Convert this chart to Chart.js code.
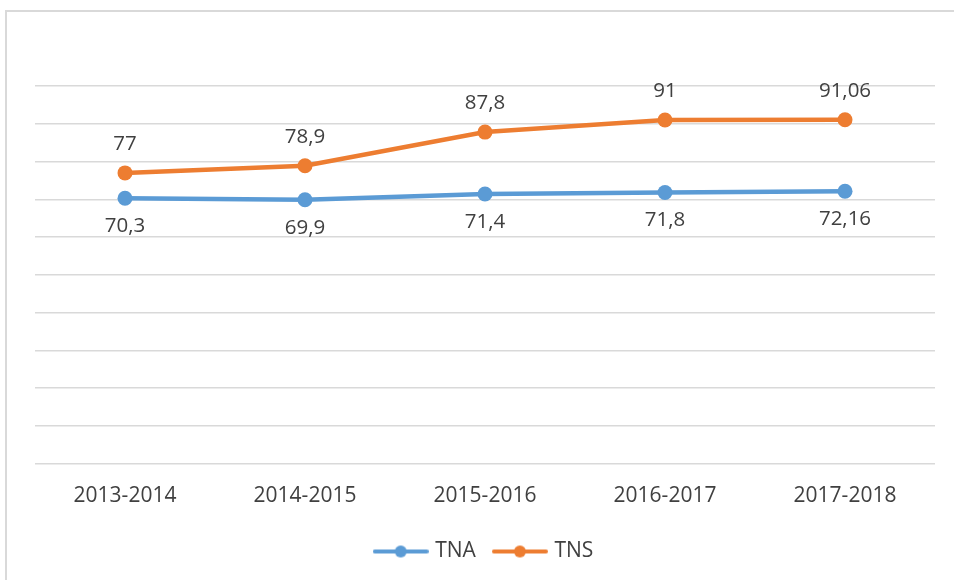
<!DOCTYPE html>
<html>
<head>
<meta charset="utf-8">
<script src="https://cdn.jsdelivr.net/npm/chart.js@4"></script>
<style>
  html, body { margin: 0; padding: 0; background: #fff; overflow: hidden; }
  #frame { position: absolute; left: 5px; top: 10px; width: 1000px; height: 700px;
           border-left: 2px solid #d9d9d9; border-top: 2px solid #d9d9d9; }
  #wrap { position: absolute; left: 0; top: 0; width: 954px; height: 580px; }
</style>
</head>
<body>
<div id="frame"></div>
<div id="wrap"><canvas id="chart"></canvas></div>
<script>
const years = ['2013-2014', '2014-2015', '2015-2016', '2016-2017', '2017-2018'];
const tna = [70.3, 69.9, 71.4, 71.8, 72.16];
const tns = [77, 78.9, 87.8, 91, 91.06];
const tnaLabels = ['70,3', '69,9', '71,4', '71,8', '72,16'];
const tnsLabels = ['77', '78,9', '87,8', '91', '91,06'];

const blue = '#5B9BD5';
const orange = '#ED7D31';
const textColor = '#404040';
const fontFamily = "'Open Sans', 'Noto Sans', sans-serif";

// legend marker: line with a dot in the middle
function legendMark(color) {
    const c = document.createElement('canvas');
    c.width = 56;
    c.height = 14;
    const g = c.getContext('2d');
    g.strokeStyle = color;
    g.lineWidth = 4;
    g.lineCap = 'round';
    g.beginPath();
    g.moveTo(2, 7);
    g.lineTo(54, 7);
    g.stroke();
    g.fillStyle = color;
    g.beginPath();
    g.arc(28, 7, 6, 0, Math.PI * 2);
    g.fill();
    return c;
}

// value labels on the points
const valueLabels = {
    id: 'valueLabels',
    afterDatasetsDraw(chart) {
        const ctx = chart.ctx;
        ctx.save();
        ctx.font = '20.5px ' + fontFamily;
        ctx.fillStyle = textColor;
        ctx.textAlign = 'center';
        ctx.textBaseline = 'middle';
        chart.data.datasets.forEach((ds, i) => {
            const meta = chart.getDatasetMeta(i);
            meta.data.forEach((pt, j) => {
                const dy = ds.labelPos === 'above' ? -29 : 28;
                ctx.fillText(ds.valueText[j], pt.x, pt.y + dy);
            });
        });
        ctx.restore();
    }
};

const ctx = document.getElementById('chart').getContext('2d');
const chart = new Chart(ctx, {
    type: 'line',
    data: {
        labels: years,
        datasets: [{
            label: 'TNA',
            data: tna,
            valueText: tnaLabels,
            labelPos: 'below',
            borderColor: blue,
            backgroundColor: blue,
            borderWidth: 4.5,
            pointRadius: 7.5,
            pointHoverRadius: 7.5,
            pointBorderWidth: 0,
            pointStyle: 'circle',
            tension: 0
        }, {
            label: 'TNS',
            data: tns,
            valueText: tnsLabels,
            labelPos: 'above',
            borderColor: orange,
            backgroundColor: orange,
            borderWidth: 4.5,
            pointRadius: 7.5,
            pointHoverRadius: 7.5,
            pointBorderWidth: 0,
            pointStyle: 'circle',
            tension: 0
        }]
    },
    options: {
        responsive: true,
        maintainAspectRatio: false,
        animation: false,
        layout: {
            padding: { left: 35, right: 19, top: 86, bottom: 8 }
        },
        plugins: {
            legend: {
                display: true,
                position: 'bottom',
                labels: {
                    color: textColor,
                    font: { family: fontFamily, size: 21 },
                    usePointStyle: true,
                    pointStyleWidth: 48,
                    padding: 20,
                    generateLabels(chart) {
                        return chart.data.datasets.map((ds, i) => ({
                            text: ds.label,
                            pointStyle: legendMark(ds.borderColor),
                            fontColor: textColor,
                            lineWidth: 0,
                            datasetIndex: i
                        }));
                    }
                }
            },
            tooltip: { enabled: false }
        },
        scales: {
            x: {
                offset: true,
                grid: { display: false },
                border: { display: false },
                ticks: {
                    color: textColor,
                    font: { family: fontFamily, size: 21 },
                    padding: 12
                }
            },
            y: {
                min: 0,
                max: 100,
                ticks: { display: false, stepSize: 10 },
                border: { display: false },
                grid: { color: '#d9d9d9', lineWidth: 1.5, drawTicks: false }
            }
        }
    },
    plugins: [valueLabels]
});
</script>
</body>
</html>
